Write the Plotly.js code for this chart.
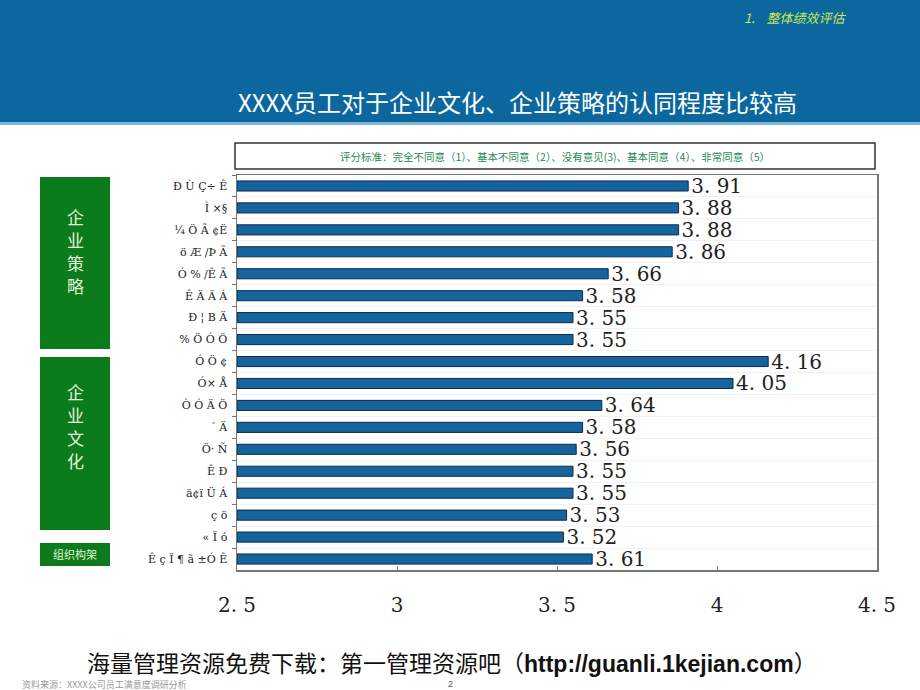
<!DOCTYPE html>
<html>
<head>
<meta charset="utf-8">
<script src="https://cdn.plot.ly/plotly-3.0.1.min.js"></script>
<style>html,body{margin:0;padding:0;background:#fff;}#chart{width:920px;height:690px;}</style>
</head>
<body>
<div id="chart"></div>
<script>
const categories = [
  "Ð Ù Ç÷ Ê", "Ì ×§", "¼ Ö Ã ¢Ë", "ö Æ /Þ Ã", "Ó % /Ê Ã", "Ê Ä Ä Á",
  "Ð ¦ B Ä", "% Ö Ó Ö", "Ó Ö ¢", "Ó× Å", "Ò Ó Ä Ö", "´ Ä",
  "Ö· Ñ", "Ê Ð", "ä¢ï Ü Á", "ç ö", "« Ï ó", "Ê ç Ï ¶ ã ±Ó Ê"
];
const scores = [3.91, 3.88, 3.88, 3.86, 3.66, 3.58, 3.55, 3.55, 4.16, 4.05, 3.64, 3.58, 3.56, 3.55, 3.55, 3.53, 3.52, 3.61];
const tickValues = [2.5, 3, 3.5, 4, 4.5];
const tickLabels = ["2. 5", "3", "3. 5", "4", "4. 5"];
const groupNames = ["企业策略", "企业文化", "组织构架"];

const fmt = v => v.toFixed(2).replace(".", ". ");

const trace = {
  type: "bar",
  orientation: "h",
  y: categories,
  x: scores.map(v => v - 2.5),
  base: 2.5,
  text: scores.map(fmt),
  textposition: "outside",
  constraintext: "none",
  cliponaxis: false,
  textfont: {family: "DejaVu Serif, Liberation Serif, serif", size: 20, color: "#222"},
  marker: {color: "#15659c", line: {color: "#0b2a4e", width: 1}},
  hoverinfo: "skip"
};

const px = x => (x - 237) / 640;
const py = y => 1 - (y - 175) / 395;

const annotations = [
  {xref: "paper", yref: "paper", x: px(517), y: py(102), xanchor: "center", yanchor: "middle",
   text: "XXXX员工对于企业文化、企业策略的认同程度比较高", showarrow: false,
   font: {family: "Noto Sans CJK SC, sans-serif", size: 24, color: "#ffffff"}},
  {xref: "paper", yref: "paper", x: px(795), y: py(17), xanchor: "center", yanchor: "middle",
   text: "<i>1.    整体绩效评估</i>", showarrow: false,
   font: {family: "Noto Sans CJK SC, serif", size: 13, color: "#c9ea4f"}},
  {xref: "paper", yref: "paper", x: px(555), y: py(156), xanchor: "center", yanchor: "middle",
   text: "评分标准：完全不同意（1）、基本不同意（2）、没有意见(3)、基本同意（4）、非常同意（5）", showarrow: false,
   font: {family: "Noto Sans CJK SC, sans-serif", size: 10.5, color: "#1f8a52"}},
  {xref: "paper", yref: "paper", x: px(75), y: py(554), xanchor: "center", yanchor: "middle",
   text: groupNames[2], showarrow: false,
   font: {family: "Noto Sans CJK SC, sans-serif", size: 11, color: "#e3f3d6"}},
  {xref: "paper", yref: "paper", x: px(20), y: py(684), xanchor: "left", yanchor: "middle",
   text: "资料来源：XXXX公司员工满意度调研分析", showarrow: false,
   font: {family: "Noto Sans CJK SC, sans-serif", size: 9, color: "#999"}},
  {xref: "paper", yref: "paper", x: px(452), y: py(662), xanchor: "center", yanchor: "middle",
   text: "海量管理资源免费下载：第一管理资源吧（<b><span style=\"font-family:'Liberation Sans', Arial, sans-serif\">http://guanli.1kejian.com</span></b>）", showarrow: false,
   font: {family: "Noto Sans CJK SC, Liberation Sans, sans-serif", size: 23, color: "#111"}},
  {xref: "paper", yref: "paper", x: px(450), y: py(684), xanchor: "center", yanchor: "middle",
   text: "2", showarrow: false,
   font: {family: "Liberation Sans, sans-serif", size: 9, color: "#555"}}
];
// vertical group labels, one character per annotation
[[groupNames[0], 216], [groupNames[1], 391]].forEach(([name, y0]) => {
  name.split("").forEach((ch, i) => {
    annotations.push({xref: "paper", yref: "paper", x: px(75), y: py(y0 + i * 23), xanchor: "center", yanchor: "middle",
      text: ch, showarrow: false, font: {family: "Noto Sans CJK SC, sans-serif", size: 17, color: "#e3f3d6"}});
  });
});

const layout = {
  width: 920, height: 690,
  margin: {l: 237, r: 43, t: 175, b: 120},
  paper_bgcolor: "#ffffff", plot_bgcolor: "#ffffff",
  showlegend: false,
  bargap: 0.54,
  xaxis: {
    range: [2.5, 4.5], tickmode: "array", tickvals: tickValues, ticktext: tickLabels,
    ticks: "inside", ticklen: 4, tickcolor: "#777",
    showgrid: false, zeroline: false,
    showline: true, linecolor: "#777", linewidth: 1.5, mirror: true,
    ticklabelstandoff: 16,
    tickfont: {family: "DejaVu Serif, Liberation Serif, serif", size: 20, color: "#222"}
  },
  yaxis: {
    autorange: "reversed", type: "category",
    ticks: "outside", ticklen: 4, tickcolor: "#777", tickson: "boundaries",
    showgrid: true, gridcolor: "#f1f1f1",
    showline: true, linecolor: "#777", linewidth: 1.5, mirror: true,
    tickfont: {family: "DejaVu Serif, serif", size: 11, color: "#222"},
    ticklabelstandoff: 6
  },
  shapes: [
    {type: "rect", layer: "below", xref: "x domain", yref: "y domain", xsizemode: "pixel", ysizemode: "pixel",
     xanchor: 0, yanchor: 1, x0: -237, x1: 683, y0: 175, y1: 52, fillcolor: "#0b679d", line: {width: 0}},
    {type: "rect", layer: "below", xref: "x domain", yref: "y domain", xsizemode: "pixel", ysizemode: "pixel",
     xanchor: 0, yanchor: 1, x0: -237, x1: 683, y0: 53, y1: 50, fillcolor: "#7fb6d6", line: {width: 0}},
    {type: "rect", xref: "x domain", yref: "y domain", xsizemode: "pixel", ysizemode: "pixel",
     xanchor: 0, yanchor: 1, x0: -2, x1: 638, y0: 32, y1: 6, fillcolor: "rgba(0,0,0,0)", line: {color: "#333", width: 1.5}},
    {type: "rect", xref: "x domain", yref: "y domain", xsizemode: "pixel", ysizemode: "pixel",
     xanchor: 0, yanchor: 1, x0: -197, x1: -127, y0: -2, y1: -174, fillcolor: "#0b7b1c", line: {width: 0}},
    {type: "rect", xref: "x domain", yref: "y domain", xsizemode: "pixel", ysizemode: "pixel",
     xanchor: 0, yanchor: 1, x0: -197, x1: -127, y0: -182, y1: -355, fillcolor: "#0b7b1c", line: {width: 0}},
    {type: "rect", xref: "x domain", yref: "y domain", xsizemode: "pixel", ysizemode: "pixel",
     xanchor: 0, yanchor: 1, x0: -197, x1: -127, y0: -368, y1: -391, fillcolor: "#0b7b1c", line: {width: 0}}
  ],
  annotations: annotations
};

Plotly.newPlot("chart", [trace], layout, {displayModeBar: false, staticPlot: true});
</script>
</body>
</html>
